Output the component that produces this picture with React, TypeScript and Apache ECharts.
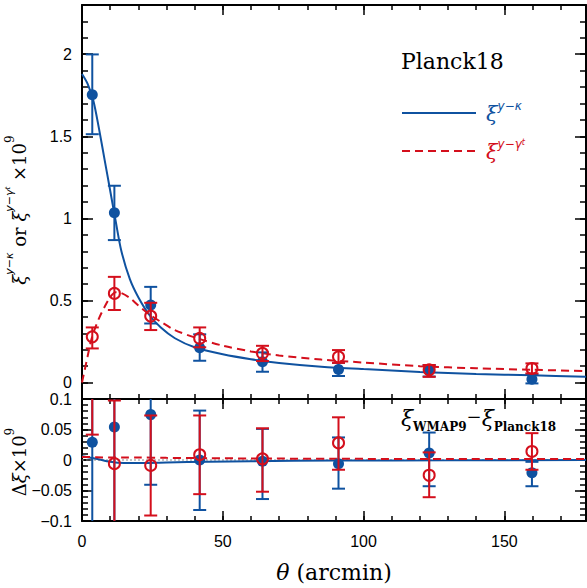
import React, { useEffect, useRef } from 'react';
import * as echarts from 'echarts';

// ---- data ----
const theta = [3.65, 11.5, 24.4, 41.8, 64.1, 91.1, 123.3, 159.8];

const kappaVal = [1.753, 1.034, 0.472, 0.212, 0.127, 0.08, 0.074, 0.02];
const kappaLo = [1.513, 0.868, 0.36, 0.133, 0.066, 0.04, 0.037, -0.005];
const kappaHi = [1.999, 1.199, 0.583, 0.294, 0.184, 0.12, 0.107, 0.05];

const gammaVal = [0.279, 0.543, 0.405, 0.269, 0.178, 0.157, 0.078, 0.086];
const gammaLo = [0.208, 0.442, 0.32, 0.215, 0.131, 0.12, 0.035, 0.056];
const gammaHi = [0.336, 0.644, 0.486, 0.336, 0.224, 0.198, 0.107, 0.117];

const kappaModelTheta = [0, 2, 4, 6, 8, 10, 12, 14, 17, 20, 24, 28, 33, 40, 50, 60, 70, 85, 100, 120, 140, 160, 179];
const kappaModel = [1.88, 1.82, 1.72, 1.55, 1.36, 1.17, 0.98, 0.8, 0.63, 0.52, 0.41, 0.335, 0.27, 0.215, 0.172, 0.142, 0.12, 0.097, 0.082, 0.065, 0.053, 0.044, 0.036];

const gammaModelTheta = [0, 1, 2, 3, 4, 6, 8, 10, 12, 14, 17, 20, 24, 28, 33, 40, 50, 60, 70, 85, 100, 120, 140, 160, 179];
const gammaModel = [0, 0.08, 0.16, 0.24, 0.3, 0.39, 0.46, 0.52, 0.55, 0.545, 0.515, 0.47, 0.415, 0.37, 0.32, 0.275, 0.225, 0.19, 0.165, 0.14, 0.122, 0.1, 0.087, 0.078, 0.07];

const dKappaVal = [0.029, 0.054, 0.0744, 0.0, -0.002, -0.006, 0.0115, -0.021];
const dKappaLo = [-0.3, -0.3, -0.0406, -0.082, -0.064, -0.047, -0.043, -0.043];
const dKappaHi = [0.3, 0.3, 0.3, 0.081, 0.051, 0.037, 0.045, -0.003];

const dGammaVal = [0.14, -0.006, -0.0089, 0.0087, 0.002, 0.028, -0.025, 0.014];
const dGammaLo = [0.0416, -0.3, -0.091, -0.056, -0.052, -0.016, -0.061, -0.016];
const dGammaHi = [0.3, 0.0975, 0.073, 0.073, 0.052, 0.07, 0.0125, 0.044];

const dModelTheta = [0, 5, 10, 15, 20, 30, 45, 60, 90, 130, 179];
const dKappaModel = [0.006, 0.002, -0.003, -0.005, -0.005, -0.004, -0.003, -0.002, -0.001, -0.0005, 0];
const dGammaModel = [0.005, 0.0045, 0.004, 0.004, 0.004, 0.0035, 0.003, 0.0025, 0.002, 0.0015, 0.0015];

const xMajor = [0, 50, 100, 150];
const yTopMajor = [0, 0.5, 1, 1.5, 2];
const yBotMajor = [-0.1, -0.05, 0, 0.05, 0.1];

const BLUE = '#0f52a0';
const RED = '#d40f1c';

const fmt = (v: number) => (v < 0 ? '\u2212' + String(Math.abs(v)) : String(v));

const tickLine = { color: '#000', width: 1.5 };
const labelFont = { fontFamily: 'Liberation Sans, Arial, sans-serif', fontSize: 16, color: '#000' };

function xAxes(grid: number, labels: boolean) {
  const base: any = { type: 'value', gridIndex: grid, min: 0, max: 179, splitLine: { show: false } };
  return [
    {
      ...base, position: 'bottom', interval: 10,
      axisLine: { show: true, onZero: false, lineStyle: { color: '#000', width: 2 } },
      axisTick: { show: true, inside: true, length: 5, lineStyle: tickLine },
      axisLabel: labels ? { show: true, customValues: xMajor, margin: 12, formatter: fmt, ...labelFont } : { show: false },
    },
    {
      ...base, position: 'bottom',
      axisLine: { show: false, onZero: false },
      axisTick: { show: true, inside: true, length: 10, customValues: xMajor, lineStyle: tickLine },
      axisLabel: { show: false },
    },
    {
      ...base, position: 'top', interval: 10,
      axisLine: { show: true, onZero: false, lineStyle: { color: '#000', width: 2 } },
      axisTick: { show: true, inside: true, length: 5, lineStyle: tickLine },
      axisLabel: { show: false },
    },
    {
      ...base, position: 'top',
      axisLine: { show: false, onZero: false },
      axisTick: { show: true, inside: true, length: 10, customValues: xMajor, lineStyle: tickLine },
      axisLabel: { show: false },
    },
  ];
}

function yAxes(grid: number, min: number, max: number, step: number, major: number[]) {
  const base: any = { type: 'value', gridIndex: grid, min, max, splitLine: { show: false } };
  return [
    {
      ...base, position: 'left', interval: step,
      axisLine: { show: true, onZero: false, lineStyle: { color: '#000', width: 2 } },
      axisTick: { show: true, inside: true, length: 6, lineStyle: tickLine },
      axisLabel: { show: true, customValues: major, margin: 10, formatter: fmt, ...labelFont },
    },
    {
      ...base, position: 'left',
      axisLine: { show: false, onZero: false },
      axisTick: { show: true, inside: true, length: 11, customValues: major, lineStyle: tickLine },
      axisLabel: { show: false },
    },
    {
      ...base, position: 'right', interval: step,
      axisLine: { show: true, onZero: false, lineStyle: { color: '#000', width: 2 } },
      axisTick: { show: true, inside: true, length: 6, lineStyle: tickLine },
      axisLabel: { show: false },
    },
    {
      ...base, position: 'right',
      axisLine: { show: false, onZero: false },
      axisTick: { show: true, inside: true, length: 11, customValues: major, lineStyle: tickLine },
      axisLabel: { show: false },
    },
  ];
}

function errSeries(xi: number, yi: number, vals: number[], lo: number[], hi: number[], color: string, filled: boolean, z: number) {
  return {
    type: 'custom',
    xAxisIndex: xi,
    yAxisIndex: yi,
    clip: true,
    z,
    encode: { x: 0, y: 1 },
    data: theta.map((t, i) => [t, vals[i], lo[i], hi[i]]),
    renderItem: (params: any, api: any) => {
      const x = api.value(0);
      const p = api.coord([x, api.value(1)]);
      const l = api.coord([x, api.value(2)]);
      const h = api.coord([x, api.value(3)]);
      const w = 6.5;
      const st = { stroke: color, lineWidth: 2 };
      return {
        type: 'group',
        children: [
          { type: 'line', shape: { x1: l[0], y1: l[1], x2: h[0], y2: h[1] }, style: st },
          { type: 'line', shape: { x1: l[0] - w, y1: l[1], x2: l[0] + w, y2: l[1] }, style: st },
          { type: 'line', shape: { x1: h[0] - w, y1: h[1], x2: h[0] + w, y2: h[1] }, style: st },
          {
            type: 'circle',
            shape: { cx: p[0], cy: p[1], r: 5.5 },
            style: filled ? { fill: color } : { fill: 'none', stroke: color, lineWidth: 2 },
          },
        ],
      };
    },
  };
}

function lineSeries(xi: number, yi: number, xs: number[], ys: number[], color: string, dashed: boolean, z: number) {
  return {
    type: 'line',
    xAxisIndex: xi,
    yAxisIndex: yi,
    showSymbol: false,
    symbol: 'none',
    smooth: 0.3,
    clip: true,
    z,
    data: xs.map((t, i) => [t, ys[i]]),
    lineStyle: { color, width: 2, type: dashed ? [8, 5] : 'solid' },
  };
}

const serif = 'DejaVu Serif, serif';

export default function App() {
  const ref = useRef<HTMLDivElement>(null);
  useEffect(() => {
    if (!ref.current) return;
    const chart = echarts.init(ref.current, null, { renderer: 'svg' });
    const option: any = {
      animation: false,
      backgroundColor: '#fff',
      grid: [
        { left: 82, top: 5, width: 504, height: 394, containLabel: false, outerBoundsMode: 'none' },
        { left: 82, top: 399, width: 504, height: 122, containLabel: false, outerBoundsMode: 'none' },
      ],
      xAxis: [...xAxes(0, false), ...xAxes(1, true)],
      yAxis: [...yAxes(0, -0.1, 2.3, 0.1, yTopMajor), ...yAxes(1, -0.1, 0.1, 0.01, yBotMajor)],
      series: [
        lineSeries(0, 0, kappaModelTheta, kappaModel, BLUE, false, 2),
        lineSeries(0, 0, gammaModelTheta, gammaModel, RED, true, 3),
        errSeries(0, 0, kappaVal, kappaLo, kappaHi, BLUE, true, 4),
        errSeries(0, 0, gammaVal, gammaLo, gammaHi, RED, false, 5),
        {
          type: 'line', xAxisIndex: 4, yAxisIndex: 4, showSymbol: false, symbol: 'none', z: 1,
          data: [[0, 0], [179, 0]],
          lineStyle: { color: '#888', width: 1, type: [2, 2] },
        },
        lineSeries(4, 4, dModelTheta, dKappaModel, BLUE, false, 2),
        lineSeries(4, 4, dModelTheta, dGammaModel, RED, true, 3),
        errSeries(4, 4, dKappaVal, dKappaLo, dKappaHi, BLUE, true, 4),
        errSeries(4, 4, dGammaVal, dGammaLo, dGammaHi, RED, false, 5),
      ],
      graphic: [
        {
          type: 'text', left: 401, top: 50,
          style: { text: 'Planck18', font: `22px ${serif}`, fill: '#000' },
        },
        { type: 'line', shape: { x1: 402, y1: 113, x2: 476, y2: 113 }, style: { stroke: BLUE, lineWidth: 2 } },
        { type: 'line', shape: { x1: 402, y1: 151, x2: 476, y2: 151 }, style: { stroke: RED, lineWidth: 2, lineDash: [8, 5] } },
        {
          type: 'text', x: 486, y: 112,
          style: {
            text: '{xi|ξ}{sup|y−κ}', fill: BLUE, verticalAlign: 'middle',
            rich: {
              xi: { fontFamily: serif, fontStyle: 'italic', fontSize: 21, fill: BLUE, lineHeight: 24, verticalAlign: 'bottom' },
              sup: { fontFamily: 'DejaVu Sans, sans-serif', fontStyle: 'italic', fontSize: 12, fill: BLUE, lineHeight: 16, verticalAlign: 'top' },
            },
          },
        },
        {
          type: 'text', x: 486, y: 150,
          style: {
            text: '{xi|ξ}{sup|y−γ}{ss|t}', fill: RED, verticalAlign: 'middle',
            rich: {
              xi: { fontFamily: serif, fontStyle: 'italic', fontSize: 21, fill: RED, lineHeight: 24, verticalAlign: 'bottom' },
              sup: { fontFamily: 'DejaVu Sans, sans-serif', fontStyle: 'italic', fontSize: 12, fill: RED, lineHeight: 16, verticalAlign: 'top' },
              ss: { fontFamily: 'DejaVu Sans, sans-serif', fontStyle: 'italic', fontSize: 8, fill: RED, lineHeight: 21, verticalAlign: 'top' },
            },
          },
        },
        {
          type: 'text', x: 401, y: 420,
          style: {
            text: '{xi|ξ}{sub|WMAP9}{mi|−}{xi|ξ}{sub|Planck18}', fill: '#000', verticalAlign: 'middle',
            rich: {
              xi: { fontFamily: serif, fontStyle: 'italic', fontSize: 22, fill: '#000', lineHeight: 26, verticalAlign: 'top' },
              sub: { fontFamily: serif, fontWeight: 'bold', fontSize: 12, fill: '#000', lineHeight: 14, verticalAlign: 'bottom' },
              mi: { fontFamily: serif, fontSize: 18, fill: '#000', lineHeight: 22, verticalAlign: 'top' },
            },
          },
        },
        {
          type: 'text', x: 16, y: 210, rotation: Math.PI / 2,
          style: {
            text: '{xi|ξ}{sup|y−κ}{rm| or }{xi|ξ}{sup|y−γ}{ss|t}{rm| ×10}{sup2|9}', fill: '#000',
            align: 'center', verticalAlign: 'middle',
            rich: {
              xi: { fontFamily: serif, fontStyle: 'italic', fontSize: 18, fill: '#000', lineHeight: 24, verticalAlign: 'bottom' },
              rm: { fontFamily: serif, fontSize: 18, fill: '#000', lineHeight: 24, verticalAlign: 'bottom' },
              sup: { fontFamily: 'DejaVu Sans, sans-serif', fontStyle: 'italic', fontSize: 11, fill: '#000', lineHeight: 13, verticalAlign: 'top' },
              sup2: { fontFamily: serif, fontSize: 12, fill: '#000', lineHeight: 13, verticalAlign: 'top' },
              ss: { fontFamily: 'DejaVu Sans, sans-serif', fontStyle: 'italic', fontSize: 7, fill: '#000', lineHeight: 18, verticalAlign: 'top' },
            },
          },
        },
        {
          type: 'text', x: 16, y: 462, rotation: Math.PI / 2,
          style: {
            text: '{rm|Δ}{xi|ξ}{rm|×10}{sup2|9}', fill: '#000',
            align: 'center', verticalAlign: 'middle',
            rich: {
              xi: { fontFamily: serif, fontStyle: 'italic', fontSize: 18, fill: '#000', lineHeight: 24, verticalAlign: 'bottom' },
              rm: { fontFamily: serif, fontSize: 18, fill: '#000', lineHeight: 24, verticalAlign: 'bottom' },
              sup2: { fontFamily: serif, fontSize: 12, fill: '#000', lineHeight: 13, verticalAlign: 'top' },
            },
          },
        },
        {
          type: 'text', x: 334, y: 572,
          style: {
            text: '{it|θ}{rm| (arcmin)}', fill: '#000', align: 'center', verticalAlign: 'middle',
            rich: {
              it: { fontFamily: serif, fontStyle: 'italic', fontSize: 22, fill: '#000' },
              rm: { fontFamily: serif, fontSize: 22, fill: '#000' },
            },
          },
        },
      ],
    };
    chart.setOption(option);
    return () => chart.dispose();
  }, []);
  return (
    <div
      ref={ref}
      style={{ position: 'absolute', left: 0, top: 0, width: 587, height: 588, background: '#fff' }}
    />
  );
}
